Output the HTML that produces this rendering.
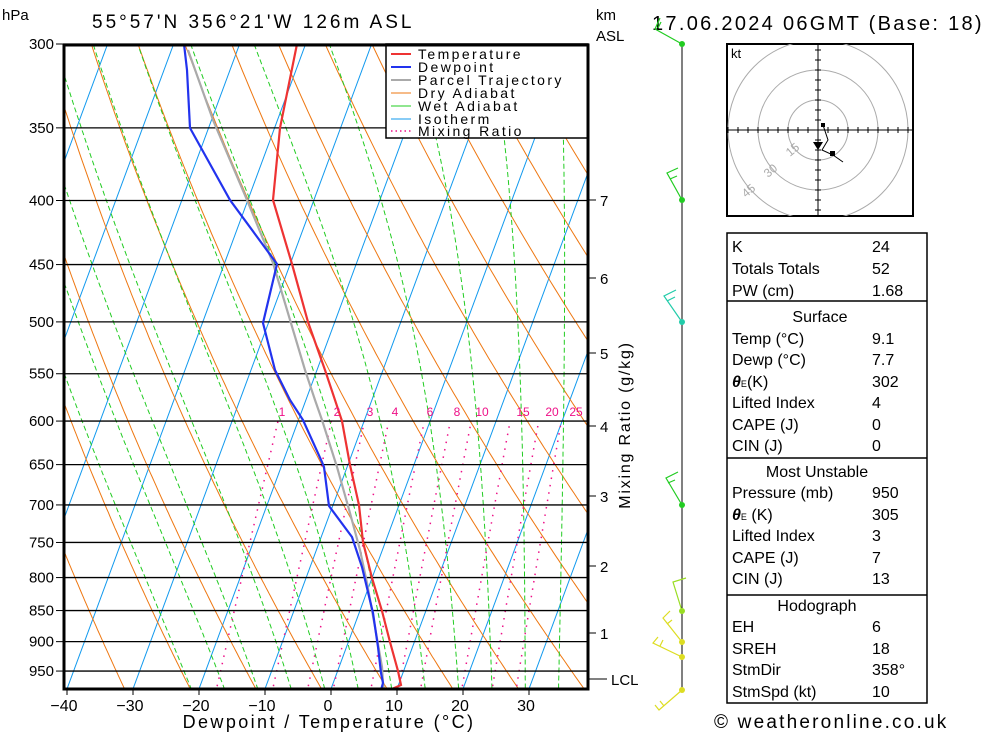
<!DOCTYPE html>
<html><head><meta charset="utf-8"><style>
body{margin:0;background:#fff;}
svg{display:block;font-family:"Liberation Sans",sans-serif;}
</style></head><body>
<svg id="s" width="1000" height="733" xmlns="http://www.w3.org/2000/svg">
<defs><clipPath id="pc"><rect x="63" y="44" width="525" height="645"/></clipPath>
<clipPath id="hc"><rect x="727" y="44" width="186" height="172"/></clipPath></defs>
<rect width="1000" height="733" fill="#fff"/>
<g id="bg" clip-path="url(#pc)"></g>
<g id="hl"></g>
<g id="prof" clip-path="url(#pc)" fill="none" stroke-width="2.2">
<polyline stroke="#aaaaaa" points="188,50 213,120 247,200 273,263 305,370 315,400 322,420 337,467 350,513 360,550 367,583 375,627 382,667 383,683 384,689"/>
<polyline stroke="#2233ee" points="184,44 187,70 190,128 230,200 277,264 263,323 275,370 290,400 303,420 322,462 324,467 329,506 352,537 362,567 373,613 378,647 381,673 383,683 381,690"/>
<polyline stroke="#ee3333" points="297,44 280,128 273,200 292,264 308,322 325,370 342,421 350,465 359,505 363,542 372,578 382,611 390,642 398,671 401,685 392,689"/>
</g>
<!-- legend -->
<rect x="386" y="44" width="202" height="94" fill="#fff" stroke="#000" stroke-width="1.5"/>
<g font-size="14" fill="#000" letter-spacing="2.4">
<line x1="391" y1="54" x2="411" y2="54" stroke="#ee3333" stroke-width="2"/><text x="418" y="59">Temperature</text>
<line x1="391" y1="67" x2="411" y2="67" stroke="#2233ee" stroke-width="2"/><text x="418" y="72">Dewpoint</text>
<line x1="391" y1="80" x2="411" y2="80" stroke="#aaaaaa" stroke-width="2"/><text x="418" y="85">Parcel Trajectory</text>
<line x1="391" y1="93" x2="411" y2="93" stroke="#ee7711" stroke-width="1"/><text x="418" y="98">Dry Adiabat</text>
<line x1="391" y1="106" x2="411" y2="106" stroke="#22cc22" stroke-width="1"/><text x="418" y="111">Wet Adiabat</text>
<line x1="391" y1="119" x2="411" y2="119" stroke="#1199ee" stroke-width="1"/><text x="418" y="124">Isotherm</text>
<line x1="391" y1="131" x2="411" y2="131" stroke="#ee1188" stroke-width="1.5" stroke-dasharray="1.5,3"/><text x="418" y="136">Mixing Ratio</text>
</g>
<rect x="64" y="45" width="524" height="644" fill="none" stroke="#000" stroke-width="3"/>
<g id="lab" font-size="15" fill="#000"></g>
<g font-size="12" fill="#ee1188">
<text x="282" y="416" text-anchor="middle">1</text><text x="337" y="416" text-anchor="middle">2</text><text x="370" y="416" text-anchor="middle">3</text><text x="395" y="416" text-anchor="middle">4</text><text x="430" y="416" text-anchor="middle">6</text><text x="457" y="416" text-anchor="middle">8</text><text x="482" y="416" text-anchor="middle">10</text><text x="523" y="416" text-anchor="middle">15</text><text x="552" y="416" text-anchor="middle">20</text><text x="576" y="416" text-anchor="middle">25</text>
</g>
<text x="2" y="20" font-size="15">hPa</text>
<text x="92" y="28" font-size="19" letter-spacing="3">55°57'N  356°21'W  126m  ASL</text>
<text x="596" y="20" font-size="15">km</text>
<text x="596" y="41" font-size="15">ASL</text>
<text x="652" y="30" font-size="20" letter-spacing="2.3">17.06.2024  06GMT  (Base: 18)</text>
<text x="329" y="728" font-size="18" text-anchor="middle" letter-spacing="2.4">Dewpoint / Temperature (°C)</text>
<text transform="translate(630,425) rotate(-90)" font-size="16" text-anchor="middle" letter-spacing="1.8">Mixing Ratio (g/kg)</text>
<g font-size="15" stroke="#000" stroke-width="1">
<line x1="589" y1="200" x2="596" y2="200"/><line x1="589" y1="278" x2="596" y2="278"/><line x1="589" y1="353" x2="596" y2="353"/><line x1="589" y1="426" x2="596" y2="426"/><line x1="589" y1="496" x2="596" y2="496"/><line x1="589" y1="566" x2="596" y2="566"/><line x1="589" y1="633" x2="596" y2="633"/><line x1="589" y1="679" x2="607" y2="679"/>
</g>
<g font-size="15"><text x="600" y="206">7</text><text x="600" y="284">6</text><text x="600" y="359">5</text><text x="600" y="432">4</text><text x="600" y="502">3</text><text x="600" y="572">2</text><text x="600" y="639">1</text><text x="611" y="685">LCL</text></g>
<!-- wind barbs -->
<line x1="682" y1="44" x2="682" y2="690" stroke="#000" stroke-width="1"/>
<g fill="none" stroke-width="1.2">
<polyline stroke="#22cc22" points="682,44 655,29 660,18"/><line stroke="#22cc22" x1="658" y1="28" x2="661" y2="22"/>
<polyline stroke="#22cc22" points="682,200 667,173 678,168"/><line stroke="#22cc22" x1="670" y1="179" x2="677" y2="176"/>
<polyline stroke="#22ccaa" points="682,322 664,296 676,290"/><line stroke="#22ccaa" x1="667" y1="301" x2="675" y2="297"/>
<polyline stroke="#22cc22" points="682,505 666,478 678,472"/><line stroke="#22cc22" x1="668" y1="483" x2="675" y2="480"/>
<polyline stroke="#99dd22" points="682,611 673,582 686,578"/>
<polyline stroke="#dddd22" points="682,642 663,618 670,611"/><line stroke="#dddd22" x1="667" y1="624" x2="672" y2="620"/>
<polyline stroke="#dddd22" points="682,657 653,643 658,637"/><line stroke="#dddd22" x1="660" y1="646" x2="663" y2="640"/>
<polyline stroke="#dddd22" points="682,690 659,710 655,705"/><line stroke="#dddd22" x1="664" y1="706" x2="660" y2="701"/>
</g>
<g>
<circle cx="682" cy="44" r="3" fill="#22cc22"/><circle cx="682" cy="200" r="3" fill="#22cc22"/><circle cx="682" cy="322" r="3" fill="#22ccaa"/><circle cx="682" cy="505" r="3" fill="#22cc22"/><circle cx="682" cy="611" r="3" fill="#99dd22"/><circle cx="682" cy="642" r="3" fill="#dddd22"/><circle cx="682" cy="657" r="3" fill="#dddd22"/><circle cx="682" cy="690" r="3" fill="#dddd22"/>
</g>
<!-- hodograph -->
<rect x="727" y="44" width="186" height="172" fill="#fff" stroke="#000" stroke-width="2"/>
<g clip-path="url(#hc)" fill="none" stroke="#aaa" stroke-width="1">
<circle cx="818" cy="130" r="30"/><circle cx="818" cy="130" r="60"/><circle cx="818" cy="130" r="90"/>
</g>
<g id="hax" stroke="#000" stroke-width="1" clip-path="url(#hc)"></g>
<g fill="#aaa" font-size="12"><text transform="translate(790,157) rotate(-40)">15</text><text transform="translate(768,178) rotate(-40)">30</text><text transform="translate(746,198) rotate(-40)">45</text></g>
<text x="731" y="58" font-size="13">kt</text>
<polyline points="823,125 828,140 822,150 833,155 843,162" fill="none" stroke="#000" stroke-width="1"/>
<rect x="821" y="123" width="4" height="4"/><rect x="830" y="151" width="5" height="5"/>
<polygon points="813,142 823,142 818,150"/>
<!-- table -->
<g fill="none" stroke="#000" stroke-width="1.5">
<rect x="727" y="233" width="200" height="470"/>
<line x1="727" y1="301" x2="927" y2="301"/><line x1="727" y1="458" x2="927" y2="458"/><line x1="727" y1="595" x2="927" y2="595"/>
</g>
<g font-size="16" fill="#000">
<text x="732" y="252">K</text><text x="872" y="252">24</text>
<text x="732" y="274">Totals Totals</text><text x="872" y="274">52</text>
<text x="732" y="296">PW (cm)</text><text x="872" y="296">1.68</text>
<text x="820" y="322" text-anchor="middle">Surface</text>
<text x="732" y="344">Temp (°C)</text><text x="872" y="344">9.1</text>
<text x="732" y="365">Dewp (°C)</text><text x="872" y="365">7.7</text>
<text x="732" y="387"><tspan font-style="italic" font-weight="bold">θ</tspan><tspan font-size="9">E</tspan>(K)</text><text x="872" y="387">302</text>
<text x="732" y="408">Lifted Index</text><text x="872" y="408">4</text>
<text x="732" y="430">CAPE (J)</text><text x="872" y="430">0</text>
<text x="732" y="451">CIN (J)</text><text x="872" y="451">0</text>
<text x="817" y="477" text-anchor="middle">Most Unstable</text>
<text x="732" y="498">Pressure (mb)</text><text x="872" y="498">950</text>
<text x="732" y="520"><tspan font-style="italic" font-weight="bold">θ</tspan><tspan font-size="9">E</tspan> (K)</text><text x="872" y="520">305</text>
<text x="732" y="541">Lifted Index</text><text x="872" y="541">3</text>
<text x="732" y="563">CAPE (J)</text><text x="872" y="563">7</text>
<text x="732" y="584">CIN (J)</text><text x="872" y="584">13</text>
<text x="817" y="611" text-anchor="middle">Hodograph</text>
<text x="732" y="632">EH</text><text x="872" y="632">6</text>
<text x="732" y="654">SREH</text><text x="872" y="654">18</text>
<text x="732" y="675">StmDir</text><text x="872" y="675">358°</text>
<text x="732" y="697">StmSpd (kt)</text><text x="872" y="697">10</text>
</g>
<text x="714" y="728" font-size="19" letter-spacing="2.2">© weatheronline.co.uk</text>
</svg>
<script>
var NS="http://www.w3.org/2000/svg";
function Y(p){return 44+544*Math.log(p/300);}
function X(T,p){return 331+6.6*T+0.37*(689-Y(p));}
function el(par,tag,a){var e=document.createElementNS(NS,tag);for(var k in a)e.setAttribute(k,a[k]);par.appendChild(e);return e;}
var bg=document.getElementById("bg");
function poly(pts,col,w,dash){var a={points:pts.map(function(q){return q[0].toFixed(1)+","+q[1].toFixed(1)}).join(" "),fill:"none",stroke:col,"stroke-width":w};if(dash)a["stroke-dasharray"]=dash;el(bg,"polyline",a);}
var P=[];for(var p=990;p>=295;p-=5)P.push(p);
for(var T=-120;T<=50;T+=10){poly([[X(T,990),Y(990)],[X(T,295),Y(295)]],"#1199ee",1);}
for(var t=-60;t<=160;t+=10){var th=t+273.15;poly(P.map(function(p){return [X(th*Math.pow(p/1000,0.286)-273.15,p),Y(p)];}),"#ee7711",1);}
function es(T){return 6.112*Math.exp(17.67*T/(T+243.5));}
function dTdp(T,p){var Tk=T+273.15,e=es(T),rs=0.622*e/(p-e),Lv=2.5e6,Rd=287,cp=1005;return (Rd*Tk+Lv*rs)/(cp+Lv*Lv*rs*0.622/(Rd*Tk*Tk))/p;}
for(var t0=-20;t0<=45;t0+=5){var pts=[];var T=t0;var p=1000;
 var Td=t0+dTdp(t0,1000)*(-10);pts.push([X(Td,990),Y(990)]);
 for(p=1000;p>=300;p-=2){pts.push([X(T,p),Y(p)]);T-=dTdp(T,p)*2;}
 poly(pts,"#22cc22",1,"5,3");}
[1,2,3,4,6,8,10,15,20,25].forEach(function(w){var pts=[];for(var p=990;p>=600;p-=10){var e=w*p/(622+w);var l=Math.log(e/6.112);var T=243.5*l/(17.67-l);pts.push([X(T,p),Y(p)]);}poly(pts,"#ee1188",1.5,"1.5,6");});
var hl=document.getElementById("hl"),lab=document.getElementById("lab");
for(var p=300;p<=950;p+=50){var y=Y(p);el(hl,"line",{x1:63,x2:588,y1:y,y2:y,stroke:"#000","stroke-width":1.3});el(hl,"line",{x1:56,x2:63,y1:y,y2:y,stroke:"#000","stroke-width":1});var t=el(lab,"text",{x:54,y:y+5,"text-anchor":"end"});t.textContent=p;}
for(var T=-40;T<=30;T+=10){var x=331+6.6*T;el(hl,"line",{x1:x,x2:x,y1:689,y2:695,stroke:"#000","stroke-width":1});var t=el(lab,"text",{x:x-3,y:711,"text-anchor":"middle","font-size":16});t.textContent=(T<0?"\u2212"+(-T):T);}
var h=document.getElementById("hax");
el(h,"line",{x1:727,x2:913,y1:130,y2:130});el(h,"line",{x1:818,x2:818,y1:44,y2:216});
for(var i=-9;i<=9;i++){if(!i)continue;el(h,"line",{x1:818+i*10,x2:818+i*10,y1:127,y2:133});el(h,"line",{x1:815,x2:821,y1:130+i*10,y2:130+i*10});}
</script>
</body></html>
